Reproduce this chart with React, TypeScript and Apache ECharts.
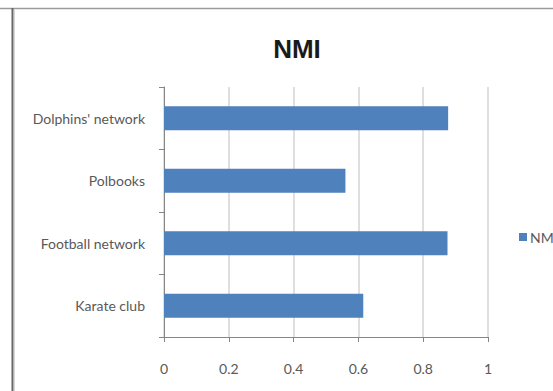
import React, { useEffect, useRef } from "react";
import * as echarts from "echarts";

const categories = ["Dolphins' network", "Polbooks", "Football network", "Karate club"];
const nmiValues = [0.877, 0.56, 0.875, 0.615];
const seriesName = "NMI";
const titleText = "NMI";

export default function App() {
  const ref = useRef<HTMLDivElement>(null);
  useEffect(() => {
    if (!ref.current) return;
    const chart = echarts.init(ref.current, undefined, { renderer: "svg" });
    const labelFont = "Lato";
    chart.setOption({
      animation: false,
      backgroundColor: "#ffffff",
      title: {
        text: titleText,
        left: 292,
        top: 31,
        textAlign: "center",
        textStyle: { fontFamily: "Liberation Sans", fontWeight: "bold", fontSize: 26, color: "#1a1a1a" },
      },
      legend: {
        left: 514,
        top: 225,
        itemWidth: 8,
        itemHeight: 8,
        icon: "rect",
        itemGap: 4,
        textStyle: { fontFamily: labelFont, fontSize: 14, color: "#595959", padding: [0, 0, 0, -2] },
        data: [seriesName],
      },
      grid: { left: 164, right: 65, top: 87, bottom: 54, containLabel: false },
      xAxis: {
        type: "value",
        min: 0,
        max: 1,
        interval: 0.2,
        axisLine: { show: true, lineStyle: { color: "#868686", width: 1 } },
        axisTick: { show: true, length: 5, lineStyle: { color: "#868686" } },
        splitLine: { show: true, lineStyle: { color: "#d4d4d4", width: 1.5 } },
        axisLabel: {
          margin: 24,
          fontFamily: labelFont,
          fontSize: 14,
          color: "#595959",
          formatter: (v: number) => String(Math.round(v * 10) / 10),
        },
      },
      yAxis: {
        type: "category",
        data: categories,
        inverse: true,
        axisLine: { show: true, lineStyle: { color: "#868686", width: 1 } },
        axisTick: { show: true, length: 5, lineStyle: { color: "#868686" } },
        axisLabel: { margin: 19, fontFamily: labelFont, fontSize: 14, color: "#595959" },
        splitLine: { show: false },
      },
      series: [
        {
          name: seriesName,
          type: "bar",
          data: nmiValues,
          barWidth: 24,
          itemStyle: { color: "#4f81bd" },
        },
      ],
      graphic: [
        {
          type: "line",
          shape: { x1: 0, y1: 8.5, x2: 553, y2: 8.5 },
          style: { stroke: "#9a9a9a", lineWidth: 1.5 },
        },
        {
          type: "line",
          shape: { x1: 12.5, y1: 8, x2: 12.5, y2: 391 },
          style: { stroke: "#666666", lineWidth: 2 },
        },
        {
          type: "line",
          shape: { x1: 14.5, y1: 9, x2: 14.5, y2: 391 },
          style: { stroke: "#d8d8d8", lineWidth: 1 },
        },
      ],
    });
    return () => chart.dispose();
  }, []);
  return (
    <div
      ref={ref}
      style={{ position: "fixed", left: 0, top: 0, width: 553, height: 391 }}
    />
  );
}
